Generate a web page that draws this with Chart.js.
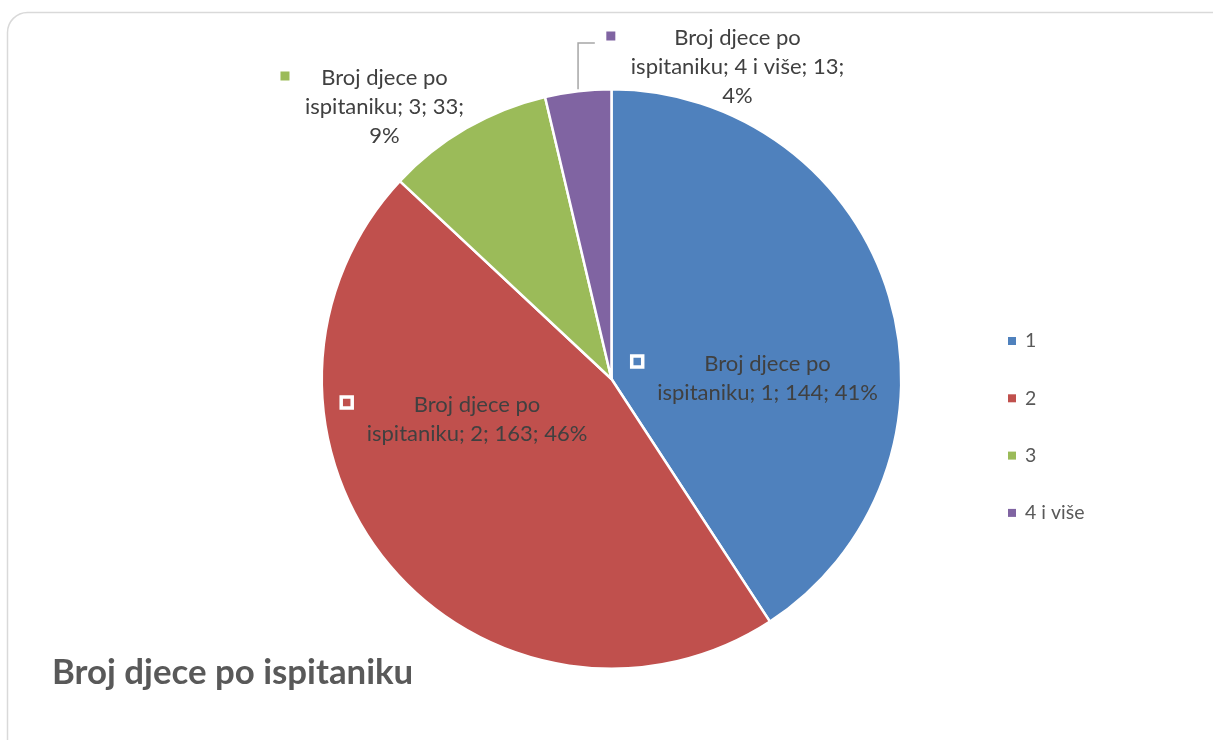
<!DOCTYPE html>
<html>
<head>
<meta charset="utf-8">
<script src="https://cdn.jsdelivr.net/npm/chart.js@4"></script>
<style>
html,body{margin:0;padding:0;background:#fff;}
canvas{display:block;}
</style>
</head>
<body>
<canvas id="c" width="1213" height="740"></canvas>
<script>
const seriesName = "Broj djece po ispitaniku";
const categories = ["1", "2", "3", "4 i više"];
const values = [144, 163, 33, 13];
const colors = ["#4F81BD", "#C0504D", "#9BBB59", "#8064A2"];

const FONT = "Lato, 'Open Sans', sans-serif";

// label layout (offsets from pie centre in px, relative text placement)
const labelLayout = [
  {cx: 156, cy: -1, lines: 2, inside: true},
  {cx: -134.5, cy: 40, lines: 2, inside: true},
  {cx: -227, cy: -272, lines: 3, inside: false},
  {cx: 126, cy: -312, lines: 3, inside: false, leader: true}
];

function total(){ return values.reduce((a,b)=>a+b,0); }

function labelLines(i){
  const pct = Math.round(values[i] / total() * 100) + "%";
  const full = ["Broj djece po", "ispitaniku; " + categories[i] + "; " + values[i] + ";", pct];
  if (labelLayout[i].lines === 2) return [full[0], full[1] + " " + pct];
  return full;
}

const drawPlugin = {
  id: 'custom',
  beforeDraw(chart){
    const ctx = chart.ctx;
    ctx.save();
    ctx.fillStyle = '#fff';
    ctx.fillRect(0,0,chart.width,chart.height);
    ctx.strokeStyle = '#d9d9d9';
    ctx.lineWidth = 1.5;
    ctx.beginPath();
    ctx.roundRect(7.5, 12.5, 1230, 760, 20);
    ctx.stroke();
    ctx.restore();
  },
  afterDraw(chart){
    const ctx = chart.ctx;
    const meta = chart.getDatasetMeta(0);
    const arc0 = meta.data[0];
    const cx = arc0.x, cy = arc0.y;
    ctx.save();
    ctx.font = "22px " + FONT;
    ctx.textAlign = 'center';
    ctx.textBaseline = 'middle';
    const lh = 29;
    meta.data.forEach((arc, i) => {
      const L = labelLayout[i];
      const lines = labelLines(i);
      const tx = cx + L.cx, ty = cy + L.cy;
      const n = lines.length;
      const y0 = ty - (n-1)*lh/2;
      ctx.fillStyle = '#404040';
      let maxW = 0;
      lines.forEach((s, k) => {
        ctx.fillText(s, tx, y0 + k*lh);
        maxW = Math.max(maxW, ctx.measureText(s).width);
      });
      // marker
      const mx = tx - maxW/2 - 20;
      const my = y0 - 2;
      if (L.inside) {
        ctx.strokeStyle = '#fff';
        ctx.lineWidth = 3.5;
        ctx.strokeRect(mx - 5.5, my - 5.5, 11, 11);
      } else {
        ctx.fillStyle = colors[i];
        ctx.fillRect(mx - 4.5, my - 4.5, 9, 9);
      }
      if (L.leader) {
        const a = (arc.startAngle + arc.endAngle)/2;
        const ex = cx + Math.cos(a)*arc.outerRadius;
        const ey = cy + Math.sin(a)*arc.outerRadius;
        ctx.strokeStyle = '#a6a6a6';
        ctx.lineWidth = 1.5;
        ctx.beginPath();
        ctx.moveTo(ex, ey - 2);
        ctx.lineTo(ex, my + 7);
        ctx.lineTo(mx - 16, my + 7);
        ctx.stroke();
      }
    });
    // legend
    ctx.textAlign = 'left';
    ctx.font = "19.5px " + FONT;
    categories.forEach((c, i) => {
      const y = 341 + i*57.3;
      ctx.fillStyle = colors[i];
      ctx.fillRect(1008, y - 4, 8, 8);
      ctx.fillStyle = '#595959';
      ctx.fillText(c, 1025, y);
    });
    // title
    ctx.font = "bold 34.8px " + FONT;
    ctx.fillStyle = '#595959';
    ctx.textBaseline = 'alphabetic';
    ctx.fillText(seriesName, 52, 684);
    ctx.restore();
  }
};

new Chart(document.getElementById('c'), {
  type: 'pie',
  data: {
    labels: categories,
    datasets: [{
      label: seriesName,
      data: values,
      backgroundColor: colors,
      borderColor: '#ffffff',
      borderWidth: 2.5
    }]
  },
  options: {
    responsive: false,
    animation: false,
    layout: { padding: { top: 88, bottom: 70, left: 300, right: 290 } },
    plugins: {
      legend: { display: false },
      tooltip: { enabled: false },
      title: { display: false }
    }
  },
  plugins: [drawPlugin]
});
</script>
</body>
</html>
